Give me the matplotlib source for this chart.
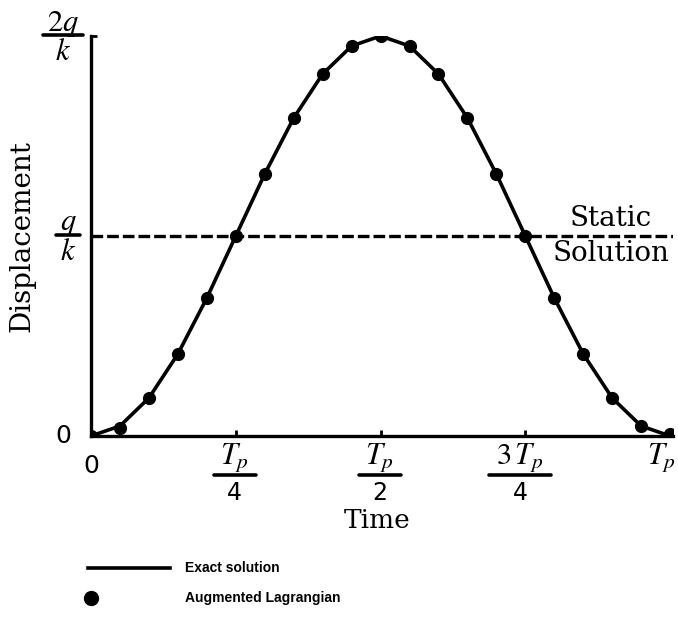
import matplotlib
matplotlib.use("Agg")
import matplotlib.pyplot as plt
from matplotlib.lines import Line2D

plt.rcParams['mathtext.fontset'] = 'stix'

# Data (time in units of Tp, displacement in units of q/k)
time = [0.00, 0.05, 0.10, 0.15, 0.20, 0.25, 0.30, 0.35, 0.40, 0.45, 0.50,
        0.55, 0.60, 0.65, 0.70, 0.75, 0.80, 0.85, 0.90, 0.95, 1.00]
exact = [0.00, 0.05, 0.19, 0.41, 0.69, 1.00, 1.31, 1.59, 1.81, 1.95, 2.00,
         1.95, 1.81, 1.59, 1.31, 1.00, 0.69, 0.41, 0.19, 0.05, 0.00]
augmented = [0.00, 0.04, 0.19, 0.41, 0.69, 1.00, 1.31, 1.59, 1.81, 1.95, 2.00,
             1.95, 1.81, 1.59, 1.31, 1.00, 0.69, 0.41, 0.19, 0.05, 0.01]
static_level = 1.0
xtick_pos = [0.25, 0.5, 0.75]
xtick_num = [r'$T_p$', r'$T_p$', r'$3\,T_p$']
xtick_den = ['4', '2', '4']
ytick_pos = [1.0, 2.0]
ytick_num = [r'$q$', r'$2q$']
ytick_den = [r'$k$', r'$k$']

W, H = 678, 622
fig = plt.figure(figsize=(W/100, H/100), dpi=100)
ax = fig.add_axes([91/W, 186/H, 582/W, 400/H])

ax.plot(time, exact, color='black', lw=2.6, solid_capstyle='round', zorder=3)
ax.plot(time, augmented, 'o', color='black', ms=8.5, zorder=4)
ax.plot([0, 1.005], [static_level, static_level], color='black', lw=2.4,
        dashes=(3.5, 1.2), zorder=2)

ax.set_xlim(0, 1.005)
ax.set_ylim(0, 2.0)
for s in ['top', 'right']:
    ax.spines[s].set_visible(False)
for s in ['left', 'bottom']:
    ax.spines[s].set_linewidth(2.4)
ax.set_xticks(xtick_pos)
ax.set_xticklabels([])
ax.set_yticks([2.0])
ax.set_yticklabels([])
ax.tick_params(axis='x', direction='in', length=4, width=2)
ax.tick_params(axis='y', direction='in', length=4, width=2)


def fx(px):
    return px / W


def fy(py):
    return 1 - py / H


def to_px(x, y):
    # data -> pixel (top-left origin)
    X, Y = ax.transData.transform((x, y))
    return X, H - Y


def fraction(cx, num, den, y_num, y_bar, y_den, half, num_size, den_size, den_math=False):
    fig.text(fx(cx), fy(y_num), num, ha='center', va='center', fontsize=num_size)
    fig.text(fx(cx), fy(y_den), den, ha='center', va='center', fontsize=den_size,
             family='DejaVu Sans' if not den_math else None)
    fig.add_artist(Line2D([fx(cx - half), fx(cx + half)], [fy(y_bar), fy(y_bar)],
                          color='black', lw=2.6, solid_capstyle='round',
                          transform=fig.transFigure))


fig.canvas.draw()
# x fraction tick labels
halves = [21, 21, 31]
shifts = [-1, -1, -5]
for p, n, d, h, sh in zip(xtick_pos, xtick_num, xtick_den, halves, shifts):
    cx, _ = to_px(p, 0)
    fraction(cx + sh, n, d, 458, 475, 493, h, 22, 17)

# y fraction tick labels
ycx = [68, 63]
yhalf = [12, 20]
for p, n, d, cx, h in zip(ytick_pos, ytick_num, ytick_den, ycx, yhalf):
    _, cy = to_px(0, p)
    fraction(cx, n, d, cy - 12, cy - 1, cy + 16, h, 22, 22, den_math=True)

xt = ax.get_xaxis_transform()
yt = ax.get_yaxis_transform()
ax.text(0.0, -0.075, '0', transform=xt, ha='center', va='center', fontsize=18,
        family='DejaVu Sans')
ax.text(0.985, -0.055, r'$T_p$', transform=xt, ha='center', va='center', fontsize=22)
ax.text(-0.048, 0.0, '0', transform=yt, ha='center', va='center', fontsize=18,
        family='DejaVu Sans')

ax.text(0.492, -0.21, 'Time', transform=ax.transAxes, ha='center', va='center',
        fontsize=19, family='DejaVu Serif')
ax.text(-0.118, 0.5, 'Displacement', transform=ax.transAxes, ha='center', va='center',
        rotation=90, fontsize=20, family='DejaVu Serif')
ax.text(0.898, static_level, 'Static\nSolution', transform=ax.transData, ha='center',
        va='center', multialignment='center', fontsize=20, family='DejaVu Serif',
        linespacing=1.4)

# legend (drawn manually to match the layout)
fig.add_artist(Line2D([fx(88), fx(170)], [fy(568), fy(568)], color='black', lw=2.6,
                      transform=fig.transFigure))
fig.add_artist(Line2D([fx(91)], [fy(598)], marker='o', ms=10, color='black', ls='none',
                      transform=fig.transFigure))
fig.text(fx(185), fy(568), 'Exact solution', ha='left', va='center', fontsize=10,
         fontweight='bold', family='Liberation Sans')
fig.text(fx(185), fy(598), 'Augmented Lagrangian', ha='left', va='center', fontsize=10,
         fontweight='bold', family='Liberation Sans')

fig.savefig('out.png', dpi=100)
